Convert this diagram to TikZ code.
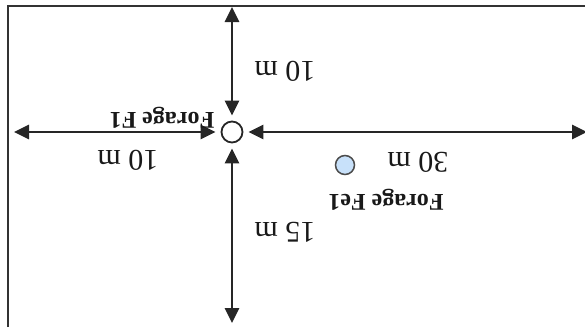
\documentclass[tikz,border=0pt]{standalone}
\usepackage{fontspec}
\setmainfont{Liberation Serif}
\usetikzlibrary{arrows.meta}

\begin{document}
\begin{tikzpicture}[x=1pt, y=-1pt, >={Triangle[length=15pt, width=14pt]},
  dim/.style={<->, line width=2.8pt, draw=black!85},
  lbl/.style={rotate=180, text=black!90, font=\fontsize{30}{30}\selectfont},
  well/.style={rotate=180, text=black!90, font=\bfseries\fontsize{24}{24}\selectfont}]
  \useasboundingbox (0,0) rectangle (585,327);

  % 1. 枠
  \draw[line width=2.2pt, black!80] (8,327) -- (8,6) -- (585,6);

  % 2. 井戸 F1 と Fe1
  \node[circle, draw=black!85, fill=white, line width=1.8pt, minimum size=21pt, inner sep=0pt] (f1) at (232,132) {};
  \node[circle, draw=black!70, fill={rgb,255:red,200;green,225;blue,250}, line width=1.5pt,
        minimum size=19pt, inner sep=0pt] (fe1) at (345,165) {};

  % 3. 矢印の端点
  \coordinate (topEnd)   at (232,7);
  \coordinate (botEnd)   at (232,323);
  \coordinate (leftEnd)  at (14,132);
  \coordinate (rightEnd) at (587,132);

  % 4. 距離の矢印
  \draw[dim, shorten >=5pt] (topEnd)   -- (f1);
  \draw[dim, shorten >=5pt] (botEnd)   -- (f1);
  \draw[dim, shorten >=5pt] (leftEnd)  -- (f1);
  \draw[dim, shorten >=5pt] (rightEnd) -- (f1);

  % 5. ラベル
  \node[lbl] (dTop)   at (285,71)  {10 m};
  \node[lbl] (dLeft)  at (128,160) {10 m};
  \node[lbl] (dRight) at (418,162) {30 m};
  \node[lbl] (dBot)   at (285,232) {15 m};
  \node[well] (nF1)   at (162,118) {Forage F1};
  \node[well] (nFe1)  at (386,200) {Forage Fe1};

\end{tikzpicture}
\end{document}
